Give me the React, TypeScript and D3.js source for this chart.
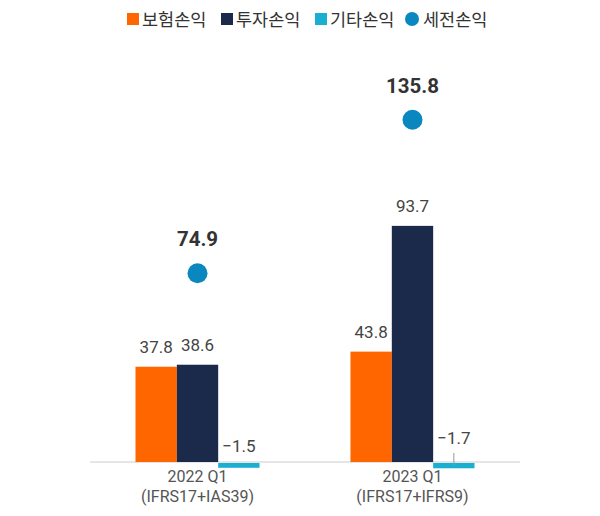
import React from "react";
import * as d3 from "d3";

const categories = ["2022 Q1", "2023 Q1"];
const subLabels = ["(IFRS17+IAS39)", "(IFRS17+IFRS9)"];
const seriesNames = ["보험손익", "투자손익", "기타손익"];
const insurance = [37.8, 43.8];
const investment = [38.6, 93.7];
const other = [-1.5, -1.7];
const pretax = [74.9, 135.8];
const pretaxName = "세전손익";
const colors = ["#FF6600", "#1B2A4A", "#1AAFD0"];
const dotColor = "#0A87BF";

const W = 600;
const H = 516;
const baseY = 462;

export default function App() {
  const x0 = d3.scaleBand<string>().domain(categories).range([90, 520]).paddingInner(0.423).paddingOuter(0.2116);
  const x1 = d3.scaleBand<string>().domain(seriesNames).range([0, x0.bandwidth()]).padding(0);
  const y = d3.scaleLinear().domain([0, 100]).range([baseY, baseY - 252]);
  const series = [insurance, investment, other];
  const font = "Roboto, 'Noto Sans CJK KR', sans-serif";

  const legendItems = [
    { name: seriesNames[0], color: colors[0], x: 127, shape: "rect" },
    { name: seriesNames[1], color: colors[1], x: 221, shape: "rect" },
    { name: seriesNames[2], color: colors[2], x: 315, shape: "rect" },
    { name: pretaxName, color: dotColor, x: 405, shape: "circle" },
  ];

  return (
    <svg width={W} height={H} style={{ position: "absolute", left: 0, top: 0, background: "#fff" }} fontFamily={font}>
      {legendItems.map((d) => (
        <g key={d.name} transform={`translate(${d.x},0)`}>
          {d.shape === "rect" ? (
            <rect x={0} y={13} width={12} height={12} fill={d.color} />
          ) : (
            <circle cx={7} cy={19} r={7} fill={d.color} />
          )}
          <text x={d.shape === "rect" ? 15 : 18} y={26} fontSize={17.5} fill="#333" fontFamily="'Noto Sans CJK KR', sans-serif">
            {d.name}
          </text>
        </g>
      ))}

      <line x1={90} x2={520} y1={baseY} y2={baseY} stroke="#cccccc" strokeWidth={1} />

      {categories.map((c, i) => (
        <g key={c} transform={`translate(${x0(c)},0)`}>
          {series.map((s, j) => {
            const v = s[i];
            const bx = x1(seriesNames[j])!;
            const top = Math.min(y(v), y(0));
            const h = Math.abs(y(v) - y(0));
            const cx = bx + x1.bandwidth() / 2;
            const neg = v < 0;
            return (
              <g key={j}>
                <rect x={bx} y={neg ? top + 1 : top} width={x1.bandwidth()} height={neg ? h + 1 : h} fill={colors[j]} />
                {neg && i === 1 ? (
                  <line x1={cx} x2={cx} y1={baseY - 9} y2={baseY + 3} stroke="#999" strokeWidth={1} />
                ) : null}
                <text
                  x={cx}
                  y={neg ? (i === 1 ? baseY - 18 : baseY - 10) : y(v) - 14}
                  textAnchor="middle"
                  fontSize={17}
                  fill="#444"
                >
                  {neg ? "\u2212" + Math.abs(v).toFixed(1) : v.toFixed(1)}
                </text>
              </g>
            );
          })}
          <circle cx={x0.bandwidth() / 2} cy={y(pretax[i])} r={10} fill={dotColor} />
          <text x={x0.bandwidth() / 2} y={y(pretax[i]) - 27} textAnchor="middle" fontSize={20.5} fontWeight="bold" fill="#333">
            {pretax[i].toFixed(1)}
          </text>
          <text x={x0.bandwidth() / 2} y={baseY + 20} textAnchor="middle" fontSize={16} fill="#555">
            {c}
          </text>
          <text x={x0.bandwidth() / 2} y={baseY + 40} textAnchor="middle" fontSize={16} fill="#555">
            {subLabels[i]}
          </text>
        </g>
      ))}
    </svg>
  );
}
